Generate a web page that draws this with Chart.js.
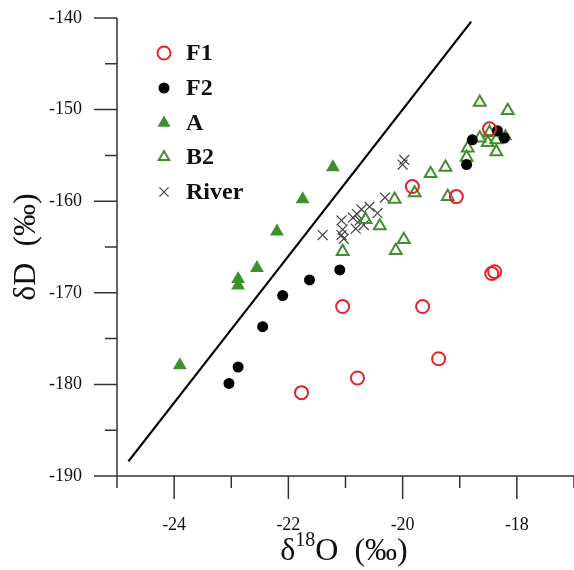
<!DOCTYPE html>
<html>
<head>
<meta charset="utf-8">
<script src="https://cdn.jsdelivr.net/npm/chart.js@4/dist/chart.umd.min.js"></script>
<style>
  body { margin: 0; background: #fff; }
  #wrap { width: 574px; height: 570px; }
</style>
</head>
<body>
<div id="wrap"><canvas id="isoChart" width="574" height="570"></canvas></div>
<script>
// δ18O / δD pairs for each sample group
const f1X = [-18.48, -19.83, -19.06, -21.05, -19.65, -19.37, -20.79, -21.77, -18.44, -18.39];
const f1Y = [-152.1, -158.4, -159.5, -171.5, -171.5, -177.2, -179.3, -180.9, -167.9, -167.7];

const f2X = [-23.04, -22.88, -22.45, -22.10, -21.63, -21.10, -18.88, -18.78, -18.34, -18.22];
const f2Y = [-179.9, -178.1, -173.7, -170.3, -168.6, -167.5, -156.0, -153.3, -152.3, -153.1];

const aX = [-23.90, -22.88, -22.88, -22.55, -22.20, -21.75, -21.22, -18.20];
const aY = [-177.9, -168.5, -169.2, -167.3, -163.3, -159.8, -156.3, -152.9];

const b2X = [-21.05, -20.65, -20.40, -20.14, -20.12, -19.98, -19.79, -19.51, -19.25, -19.21,
             -18.88, -18.86, -18.65, -18.16, -18.65, -18.48, -18.51, -18.36, -18.36];
const b2Y = [-165.5, -162.0, -162.7, -159.8, -165.4, -164.2, -159.1, -157.0, -156.3, -159.5,
             -155.2, -154.2, -149.2, -150.1, -153.1, -152.5, -153.6, -153.3, -154.6];

const riverX = [-19.97, -20.00, -20.31, -20.58, -20.44, -20.72, -20.80, -20.87, -20.75, -20.68,
                -20.82, -21.07, -21.05, -21.07, -21.03, -21.40];
const riverY = [-155.5, -156.0, -159.6, -160.6, -161.3, -160.9, -161.4, -161.8, -162.1, -162.6,
                -163.0, -162.1, -163.1, -163.7, -164.1, -163.7];

// meteoric water line end points
const lineX = [-24.8, -18.8];
const lineY = [-188.4, -140.4];

// axis ticks
const xTicks = [-24, -22, -20, -18];
const xMinor = [-25, -23, -21, -19, -17];
const yTicks = [-190, -180, -170, -160, -150, -140];
const yMinor = [-185, -175, -165, -155, -145];

const RED = '#e3222b';
const GREEN = '#3f8f2c';
const SERIF = "'Liberation Serif', 'Times New Roman', serif";

function pts(xs, ys) {
  return xs.map((x, i) => ({ x: x, y: ys[i] }));
}

const datasets = [
  { label: 'F1', data: pts(f1X, f1Y), pointStyle: 'circle', pointRadius: 6.5,
    borderColor: RED, backgroundColor: 'rgba(0,0,0,0)', pointBorderWidth: 2 },
  { label: 'F2', data: pts(f2X, f2Y), pointStyle: 'circle', pointRadius: 5.5,
    borderColor: '#000', backgroundColor: '#000', pointBorderWidth: 0 },
  { label: 'A', data: pts(aX, aY), pointStyle: 'triangle', pointRadius: 8,
    borderColor: GREEN, backgroundColor: GREEN, pointBorderWidth: 0 },
  { label: 'B2', data: pts(b2X, b2Y), pointStyle: 'triangle', pointRadius: 6.8,
    borderColor: GREEN, backgroundColor: 'rgba(0,0,0,0)', pointBorderWidth: 2 },
  { label: 'River', data: pts(riverX, riverY), pointStyle: 'crossRot', pointRadius: 7,
    borderColor: '#444', backgroundColor: '#444', pointBorderWidth: 1.2 },
  { label: 'line', type: 'line', data: pts(lineX, lineY), showLine: true,
    borderColor: '#000', borderWidth: 2.2, pointRadius: 0, fill: false }
];

// legend drawn in the upper left of the plot
const legendPlugin = {
  id: 'sideLegend',
  afterDraw(chart) {
    const ctx = chart.ctx;
    const ys = [53, 88, 123, 157, 192];
    const sizes = [6.5, 5.5, 7.5, 6, 6.5];
    ctx.save();
    for (let i = 0; i < 5; i++) {
      const ds = chart.data.datasets[i];
      ctx.fillStyle = ds.backgroundColor;
      ctx.strokeStyle = ds.borderColor;
      ctx.lineWidth = ds.pointBorderWidth || 0.01;
      Chart.helpers.drawPoint(ctx, {
        pointStyle: ds.pointStyle, radius: sizes[i], rotation: 0,
        borderWidth: ds.pointBorderWidth
      }, 164, ys[i]);
      ctx.fillStyle = '#111';
      ctx.font = 'bold 24px ' + SERIF;
      ctx.textAlign = 'left';
      ctx.textBaseline = 'middle';
      ctx.fillText(ds.label, 186, ys[i] + 1);
    }
    ctx.restore();
  }
};

// axis lines, major/minor ticks and axis titles
const axesPlugin = {
  id: 'axesDeco',
  afterDraw(chart) {
    const ctx = chart.ctx;
    const xs = chart.scales.x, ys = chart.scales.y;
    const left = chart.chartArea.left, bottom = chart.chartArea.bottom;
    ctx.save();
    ctx.strokeStyle = '#333';
    ctx.lineWidth = 1.5;
    ctx.beginPath();
    ctx.moveTo(left, ys.getPixelForValue(-140));
    ctx.lineTo(left, bottom);
    ctx.lineTo(chart.chartArea.right, bottom);
    xTicks.forEach(v => { const p = xs.getPixelForValue(v); ctx.moveTo(p, bottom); ctx.lineTo(p, bottom + 23); });
    xMinor.forEach(v => { const p = xs.getPixelForValue(v); ctx.moveTo(p, bottom); ctx.lineTo(p, bottom + 12); });
    yTicks.forEach(v => { const p = ys.getPixelForValue(v); ctx.moveTo(left, p); ctx.lineTo(left - 23, p); });
    yMinor.forEach(v => { const p = ys.getPixelForValue(v); ctx.moveTo(left, p); ctx.lineTo(left - 12, p); });
    ctx.stroke();

    ctx.fillStyle = '#111';
    ctx.textBaseline = 'alphabetic';
    ctx.textAlign = 'left';
    // x title: δ18O (‰)
    const big = '32px ' + SERIF, small = '20px ' + SERIF;
    ctx.font = big;
    const w1 = ctx.measureText('δ').width;
    const w3 = ctx.measureText('O  (‰)').width;
    ctx.font = small;
    const w2 = ctx.measureText('18').width;
    let x0 = 344 - (w1 + w2 + w3) / 2;
    ctx.font = big;
    ctx.fillText('δ', x0, 560);
    ctx.font = small;
    ctx.fillText('18', x0 + w1, 546);
    ctx.font = big;
    ctx.fillText('O  (‰)', x0 + w1 + w2, 560);

    // y title: δD (‰)
    ctx.translate(35, 247);
    ctx.rotate(-Math.PI / 2);
    ctx.textAlign = 'center';
    ctx.font = big;
    ctx.fillText('δD  (‰)', 0, 0);
    ctx.restore();
  }
};

function noPad(s) {
  s.paddingTop = 0;
  s.paddingBottom = 0;
  s.paddingLeft = 0;
  s.paddingRight = 0;
}

const config = {
  type: 'scatter',
  data: { datasets: datasets },
  options: {
    responsive: false,
    animation: false,
    layout: { autoPadding: false, padding: { top: 18, right: 0, left: 0, bottom: 0 } },
    plugins: {
      legend: { display: false },
      tooltip: { enabled: false }
    },
    scales: {
      x: {
        type: 'linear', min: -25, max: -17,
        afterBuildTicks: s => { s.ticks = xTicks.map(v => ({ value: v })); },
        afterFit: s => { s.height = 94; noPad(s); },
        grid: { display: false, drawTicks: false },
        border: { display: false },
        ticks: { color: '#111', font: { family: SERIF, size: 18 }, padding: 38, maxRotation: 0 }
      },
      y: {
        type: 'linear', min: -190, max: -140,
        afterBuildTicks: s => { s.ticks = yTicks.map(v => ({ value: v })); },
        afterFit: s => { s.width = 117; noPad(s); },
        grid: { display: false, drawTicks: false },
        border: { display: false },
        ticks: { color: '#111', font: { family: SERIF, size: 18 }, padding: 35 }
      }
    }
  },
  plugins: [axesPlugin, legendPlugin]
};

const ctx = document.getElementById('isoChart').getContext('2d');
const isoChart = new Chart(ctx, config);
</script>
</body>
</html>
